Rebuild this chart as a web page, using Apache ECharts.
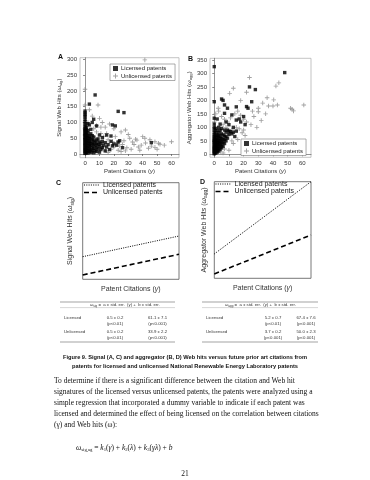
<!DOCTYPE html>
<html><head><meta charset="utf-8">
<script src="https://cdn.jsdelivr.net/npm/echarts@6/dist/echarts.min.js"></script>
<style>html,body{margin:0;padding:0;background:#fff}#c{width:370px;height:480px}</style>
</head><body><div id="c"></div>
<script>
// ---------- data ----------
const xTicks = [0, 10, 20, 30, 40, 50, 60];
const yTicksA = [0, 50, 100, 150, 200, 250, 300];
const yTicksB = [0, 50, 100, 150, 200, 250, 300, 350];

const sigLicensed = [[0,2],[0,6],[0,10],[0,14],[0,18],[0,22],[0,26],[0,30],[0,34],[0,38],[0,42],[0,46],[0,50],[0,54],[0,58],[0,62],[0,66],[0,70],[0,74],[0,78],[0,82],[0,88],[0,95],[0,102],[0,110],[0,118],[0,124],[0,130],[0,136],
[1,4],[1,12],[1,20],[1,28],[1,36],[1,44],[1,52],[1,60],[1,68],[1,76],[1,84],
[2,3],[2,10],[2,18],[2,26],[2,34],[2,42],[2,50],[2,58],[2,66],[2,74],[2,96],
[3,8],[3,16],[3,24],[3,32],[3,40],[3,48],[3,56],[3,92],[3,158],
[4,5],[4,14],[4,28],[4,38],[4,50],[4,64],[4,78],
[5,10],[5,22],[5,34],[5,46],[5,58],[5,100],
[6,4],[6,18],[6,30],[6,42],[6,54],[6,110],
[7,12],[7,26],[7,38],[7,187],
[8,8],[8,20],[8,32],[8,44],[8,89],
[9,16],[9,30],[9,48],
[10,6],[10,24],[10,38],[10,60],
[11,14],[11,32],[12,20],[12,40],[12,52],[13,28],[14,10],[14,36],[15,22],[15,60],[16,30],[17,14],[18,40],[18,57],[19,26],[19,92],[20,32],[21,89],[22,28],[23,38],[23,135],[24,42],[26,20],[27,131],[46,36]];

const sigUnlicensed = [[0,205],[0,155],[41.5,298],[9,155],[10,113],[28,76],[35,47],[36,44],[40,55],[41.5,50],[48.5,39],[51,34],[52,31],[60,39],[48.5,21],[39,28],[30,62],[25,70],[20,80],[17,95],[12,100],[14,85],[5,120],[3,140],[2,100],[1,90],[6,80],[8,70],[11,65],[13,55],[16,45],[19,40],[22,35],[26,30],[29,20],[32,15],[33,38],[37,22],[44,18],[45,45],[55,28],[4,60],[7,50],[9,40],[10,30],[12,20],[14,10],[16,5],[18,15],[20,22],[23,12],[25,8],[27,42],[31,50],[3,30],[5,15],[7,5],[2,50],[1,40],[0,60],[0,80],[0,100],[6,35],[15,65],[21,55],[24,25],[28,10],[34,30],[38,12],[42,35],[46,25],[50,15],[8,90],[11,85],[4,25],[6,12]];

const aggLicensed = [[0,2],[0,6],[0,10],[0,14],[0,18],[0,22],[0,26],[0,30],[0,35],[0,40],[0,45],[0,50],[0,55],[0,60],[0,66],[0,72],[0,80],[0,90],[0,100],[0,112],[0,134],[0,195],[0,325],
[1,4],[1,10],[1,16],[1,22],[1,28],[1,34],[1,40],[1,46],[1,52],[1,60],[1,70],[1,82],[1,96],
[2,8],[2,14],[2,20],[2,28],[2,36],[2,44],[2,52],[2,62],[2,72],[2,88],[2,131],
[3,12],[3,22],[3,32],[3,42],[3,50],[3,60],[3,70],[3,80],[3,100],
[4,18],[4,28],[4,38],[4,48],[4,58],[4,68],[4,88],[4,112],
[5,24],[5,36],[5,48],[5,60],[5,76],[5,96],[5,205],
[6,30],[6,44],[6,56],[6,72],[6,200],
[7,40],[7,54],[7,68],[7,90],[7,152],[7,183],
[8,50],[8,66],[8,82],[8,120],
[9,60],[9,90],[9,171],
[10,74],[10,86],[10,110],
[11,84],[12,76],[12,146],[13,82],[13,100],[14,66],[15,86],[15,127],[15,176],[17,131],[18,120],[20,140],[21,110],[22,177],[23,171],[24,250],[25.5,195],[28,240],[48,303]];

const aggUnlicensed = [[24,285],[13,245],[42,253],[44,265],[10.5,226],[40.5,202],[37,179],[40,179],[43,183],[30,171],[52,171],[53,167],[54,161],[61,183],[30,158],[2.7,171],[1,150],[3,160],[5,140],[7,130],[9,120],[11,135],[14,150],[16,160],[18,145],[20,130],[22,120],[25,110],[27,140],[29,100],[32,125],[35,150],[12,90],[15,100],[17,95],[19,80],[21,70],[8,100],[6,110],[4,90],[2,70],[1,60],[0,50],[3,40],[5,30],[7,20],[10,15],[13,40],[16,55],[20,90],[26,160],[33,190],[36,210],[18,200],[22,230],[8,60],[10,75],[12,50],[0,120],[0,90],[2,20],[4,10],[6,5],[1,30]];

// schematic fitted lines (panels C, D) on a 0-100 scale
const fitX = [0, 100];
const sigFitLicensed = [23.4, 44.8];
const sigFitUnlicensed = [4.5, 25.9];
const aggFitLicensed = [25.2, 100];
const aggFitUnlicensed = [4.5, 44.8];
const fitLegendNames = ['Licensed patents', 'Unlicensed patents'];

// regression tables
const tableRows = ['Licensed', 'Unlicensed'];
const sigA = ['0.5 ± 0.2', '0.5 ± 0.2'];
const sigAp = ['(p<0.01)', '(p<0.01)'];
const sigB = ['61.1 ± 7.1', '33.9 ± 2.2'];
const sigBp = ['(p<0.001)', '(p<0.001)'];
const aggA = ['5.2 ± 0.7', '3.7 ± 0.2'];
const aggAp = ['(p<0.01)', '(p<0.001)'];
const aggB = ['67.4 ± 7.6', '50.0 ± 2.3'];
const aggBp = ['(p<0.001)', '(p<0.001)'];

const captionLines = [
  'Figure 9. Signal (A, C) and aggregator (B, D) Web hits versus future prior art citations from',
  'patents for licensed and unlicensed National Renewable Energy Laboratory patents'
];
const bodyLines = [
  'To determine if there is a significant difference between the citation and Web hit',
  'signatures of the licensed versus unlicensed patents, the patents were analyzed using a',
  'simple regression that incorporated a dummy variable to indicate if each patent was',
  'licensed and determined the effect of being licensed on the correlation between citations',
  '(γ) and Web hits (ω):'
];
const pageNumber = '21';

// ---------- chart ----------
const SANS = 'Liberation Sans, Arial, sans-serif';
const SERIF = 'Liberation Serif, Times New Roman, serif';
const chart = echarts.init(document.getElementById('c'), null, {renderer: 'canvas'});
const plusPath = 'path://M2,0H3V2H5V3H3V5H2V3H0V2H2Z';
function richName(size) {
  return {
    fontSize: size, color: '#333', fontFamily: SANS,
    rich: {
      i: {fontSize: size, fontStyle: 'italic', color: '#333', fontFamily: SANS},
      s: {fontSize: size * 0.7, color: '#333', fontFamily: SANS, padding: [size * 0.5, 0, 0, 0]}
    }
  };
}
function valueX(gi, min, max, ticks, withLabels, nameSize, nameGap) {
  return {
    gridIndex: gi, type: 'value', min: min, max: max,
    axisLine: {show: withLabels, lineStyle: {color: '#666', width: 0.7}},
    splitLine: {show: false},
    axisTick: {show: withLabels, customValues: ticks, length: 2, lineStyle: {color: '#555', width: 0.7}},
    axisLabel: {show: withLabels, customValues: ticks, fontSize: 6, color: '#333', margin: 3, fontFamily: SANS},
    name: 'Patent Citations ({i|γ})', nameLocation: 'middle', nameGap: nameGap,
    nameTextStyle: richName(nameSize)
  };
}
function valueY(gi, min, max, ticks, withLabels, name, nameSize, nameGap) {
  return {
    gridIndex: gi, type: 'value', min: min, max: max,
    axisLine: {show: withLabels, lineStyle: {color: '#666', width: 0.7}},
    splitLine: {show: false},
    axisTick: {show: withLabels, customValues: ticks, length: 2, lineStyle: {color: '#555', width: 0.7}},
    axisLabel: {show: withLabels, customValues: ticks, fontSize: 6, color: '#333', margin: 3, fontFamily: SANS},
    name: name, nameLocation: 'middle', nameGap: nameGap, nameRotate: 90,
    nameTextStyle: richName(nameSize)
  };
}
const lin = (xs, ys) => xs.map((x, i) => [x, ys[i]]);

const graphics = [];
function txt(x, y, text, o) {
  o = o || {};
  graphics.push({type: 'text', x: x, y: y, silent: true, style: Object.assign({
    text: text, fontSize: 4.3, fill: '#333', fontFamily: SANS,
    textAlign: 'left', textVerticalAlign: 'middle'
  }, o)});
}
function hline(x1, x2, y, w, c, dash) {
  const st = {stroke: c || '#555', lineWidth: w || 0.6};
  if (dash) st.lineDash = dash;
  graphics.push({type: 'line', silent: true, shape: {x1: x1, y1: y, x2: x2, y2: y}, style: st});
}
// panel letters
txt(58, 57.5, 'A', {fontSize: 7, fontWeight: 'bold', fill: '#111'});
txt(188, 59.5, 'B', {fontSize: 7, fontWeight: 'bold', fill: '#111'});
txt(56, 183, 'C', {fontSize: 7, fontWeight: 'bold', fill: '#111'});
txt(200, 182.5, 'D', {fontSize: 7, fontWeight: 'bold', fill: '#111'});

// legends of C and D (line samples + text)
const DOT = [1, 1.3], DASH = [5, 3];
function fitLegend(x, y) {
  hline(x, x + 16, y, 1, '#000', DOT);
  hline(x, x + 16, y + 7.5, 1.6, '#000', DASH);
  txt(x + 19, y, fitLegendNames[0], {fontSize: 7, fill: '#222'});
  txt(x + 19, y + 7.5, fitLegendNames[1], {fontSize: 7, fill: '#222'});
}
fitLegend(84, 185);
fitLegend(215.5, 184);

// tables
const tRich = {
  i: {fontSize: 4.3, fontStyle: 'italic', fill: '#333', fontFamily: SANS},
  s: {fontSize: 3, fill: '#333', fontFamily: SANS, padding: [2, 0, 0, 0]}
};
function table(x0, x1, hx, sym, colA, colAp, colB, colBp, cA, cB) {
  hline(x0, x1, 302, 0.6, '#666');
  txt(hx, 304.8, '{i|ω}{s|' + sym + '} =  a ± std. err.  ({i|γ}) +  b ± std. err.', {rich: tRich});
  hline(x0, x1, 307.6, 0.4, '#999');
  hline(x0, x1, 342, 0.6, '#666');
  tableRows.forEach((r, i) => {
    const y = 318 + i * 14;
    txt(x0 + 4, y, r);
    txt(cA, y, colA[i], {textAlign: 'center'});
    txt(cA, y + 5.5, colAp[i], {textAlign: 'center'});
    txt(cB, y, colB[i], {textAlign: 'center'});
    txt(cB, y + 5.5, colBp[i], {textAlign: 'center'});
  });
}
table(60, 175, 90, 'sig', sigA, sigAp, sigB, sigBp, 115, 157.5);
table(202, 318, 225, 'agg', aggA, aggAp, aggB, aggBp, 273, 306);

// caption
captionLines.forEach((l, i) => txt(185, 357.5 + i * 8.5, l, {fontSize: 5.7, fontWeight: 'bold', fill: '#111', textAlign: 'center'}));
// body
bodyLines.forEach((l, i) => txt(54, 381 + i * 11, l, {fontSize: 7.5, fill: '#111', fontFamily: SERIF}));
// equation
const eRich = {
  i: {fontSize: 7.5, fontStyle: 'italic', fill: '#111', fontFamily: SERIF},
  s: {fontSize: 4.7, fill: '#111', fontFamily: SERIF, padding: [4, 0, 0, 0]},
  n: {fontSize: 7.5, fill: '#111', fontFamily: SERIF}
};
txt(76, 448, '{i|ω}{s|sig,ag}{n| = }{i|k}{s|1}{n|(}{i|γ}{n|) + }{i|k}{s|2}{n|(}{i|λ}{n|) + }{i|k}{s|3}{n|(}{i|γλ}{n|) + }{i|b}', {rich: eRich});
txt(185, 474, pageNumber, {fontSize: 7.5, fill: '#111', fontFamily: SERIF, textAlign: 'center'});

const legendA = {
  orient: 'vertical', itemWidth: 5, itemHeight: 5, itemGap: 1.5, padding: [1.5, 3, 1.5, 3],
  borderColor: '#777', borderWidth: 0.6, backgroundColor: '#fff',
  textStyle: {fontSize: 6, color: '#222', fontFamily: SANS, padding: [0, 0, 0, -2]},
  data: ['Licensed patents', 'Unlicensed patents'], selectedMode: false
};
const dotted = {color: '#000', width: 1, type: DOT};
const dashed = {color: '#000', width: 1.6, type: DASH};

const option = {
  animation: false,
  backgroundColor: '#fff',
  textStyle: {fontFamily: SANS},
  grid: [
    {left: 80, top: 57.7, width: 99, height: 100, show: true, borderColor: '#aaa', borderWidth: 0.7},
    {left: 210, top: 58.3, width: 101, height: 99, show: true, borderColor: '#aaa', borderWidth: 0.7},
    {left: 82.7, top: 182.7, width: 96.3, height: 96.6, show: true, borderColor: '#555', borderWidth: 0.8},
    {left: 214.3, top: 181.7, width: 96.7, height: 96.6, show: true, borderColor: '#555', borderWidth: 0.8}
  ],
  xAxis: [
    valueX(0, -3.5, 65.2, xTicks, true, 6, 11),
    valueX(1, -2.9, 65.9, xTicks, true, 6, 11),
    valueX(2, 0, 100, [], false, 7, 6),
    valueX(3, 0, 100, [], false, 7, 6)
  ],
  yAxis: [
    valueY(0, -11.7, 305, yTicksA, true, 'Signal Web Hits ({i|ω}{s|sig})', 6, 17),
    valueY(1, -11, 356, yTicksB, true, 'Aggregator Web Hits ({i|ω}{s|agg})', 6, 17),
    valueY(2, 0, 100, [], false, 'Signal Web Hits ({i|ω}{s|sig})', 7, 8),
    valueY(3, 0, 100, [], false, 'Aggregator Web Hits ({i|ω}{s|agg})', 7, 6)
  ],
  legend: [
    Object.assign({left: 110, top: 64}, legendA),
    Object.assign({left: 241, top: 139}, legendA)
  ],
  series: [
    {name: 'Unlicensed patents', type: 'scatter', xAxisIndex: 0, yAxisIndex: 0, symbol: plusPath, symbolSize: 4.5, itemStyle: {color: '#8a8a8a'}, data: sigUnlicensed},
    {name: 'Licensed patents', type: 'scatter', xAxisIndex: 0, yAxisIndex: 0, symbol: 'rect', symbolSize: 3.4, itemStyle: {color: '#000'}, data: sigLicensed},
    {name: 'Unlicensed patents', type: 'scatter', xAxisIndex: 1, yAxisIndex: 1, symbol: plusPath, symbolSize: 4.5, itemStyle: {color: '#8a8a8a'}, data: aggUnlicensed},
    {name: 'Licensed patents', type: 'scatter', xAxisIndex: 1, yAxisIndex: 1, symbol: 'rect', symbolSize: 3.4, itemStyle: {color: '#000'}, data: aggLicensed},
    {name: 'Licensed fit', type: 'line', xAxisIndex: 2, yAxisIndex: 2, symbol: 'none', lineStyle: dotted, data: lin(fitX, sigFitLicensed)},
    {name: 'Unlicensed fit', type: 'line', xAxisIndex: 2, yAxisIndex: 2, symbol: 'none', lineStyle: dashed, data: lin(fitX, sigFitUnlicensed)},
    {name: 'Licensed fit', type: 'line', xAxisIndex: 3, yAxisIndex: 3, symbol: 'none', lineStyle: dotted, data: lin(fitX, aggFitLicensed)},
    {name: 'Unlicensed fit', type: 'line', xAxisIndex: 3, yAxisIndex: 3, symbol: 'none', lineStyle: dashed, data: lin(fitX, aggFitUnlicensed)}
  ],
  graphic: graphics
};
chart.setOption(option);
</script>
</body></html>
